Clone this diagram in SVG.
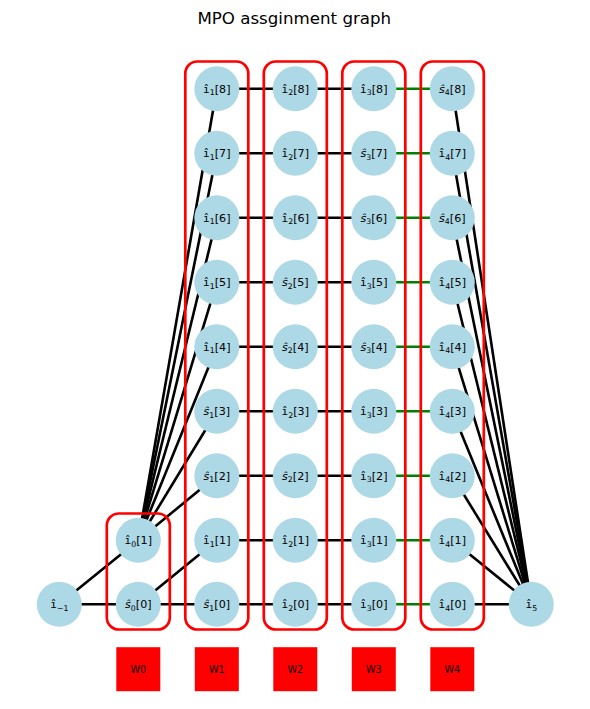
<svg xmlns="http://www.w3.org/2000/svg" width="590" height="709" viewBox="0 0 590 709">
<style>
.e{stroke:#000;stroke-width:2.6;fill:none}
.g{stroke:#008000;stroke-width:2.6;fill:none}
.box{fill:none;stroke:#ff0000;stroke-width:2.7}
.n{fill:#add8e6}
.t{font-family:"DejaVu Sans",sans-serif;font-size:11.1px;fill:#000;text-anchor:middle}
.i{font-family:"DejaVu Sans Mono",monospace}
.s{font-style:italic}
.sb{font-size:7.8px}
.w{fill:#ff0000}
.wt{font-family:"DejaVu Sans",sans-serif;font-size:9.7px;fill:#000;text-anchor:middle}
</style>
<rect width="590" height="709" fill="#fff"/>
<text x="294.3" y="24" font-family="DejaVu Sans, sans-serif" font-size="16.67" text-anchor="middle">MPO assginment graph</text>
<g id="connectors">
<line class="e" x1="59.3" y1="604.3" x2="138.3" y2="604.3"/>
<line class="e" x1="138.3" y1="604.3" x2="216.8" y2="604.3"/>
<line class="e" x1="216.8" y1="604.3" x2="295.3" y2="604.3"/>
<line class="e" x1="295.3" y1="604.3" x2="373.8" y2="604.3"/>
<line class="e" x1="452.3" y1="604.3" x2="531.3" y2="604.3"/>
<line class="e" x1="59.3" y1="604.3" x2="138.3" y2="540.3"/>
<line class="e" x1="138.3" y1="604.3" x2="216.8" y2="540.3"/>
<line class="e" x1="138.3" y1="540.3" x2="216.8" y2="475.8"/>
<line class="e" x1="138.3" y1="540.3" x2="216.8" y2="411.3"/>
<line class="e" x1="138.3" y1="540.3" x2="216.8" y2="346.8"/>
<line class="e" x1="138.3" y1="540.3" x2="216.8" y2="282.3"/>
<line class="e" x1="138.3" y1="540.3" x2="216.8" y2="217.8"/>
<line class="e" x1="138.3" y1="540.3" x2="216.8" y2="153.3"/>
<line class="e" x1="138.3" y1="540.3" x2="216.8" y2="88.8"/>
<line class="e" x1="216.8" y1="540.3" x2="373.8" y2="540.3"/>
<line class="e" x1="216.8" y1="475.8" x2="373.8" y2="475.8"/>
<line class="e" x1="216.8" y1="411.3" x2="373.8" y2="411.3"/>
<line class="e" x1="216.8" y1="346.8" x2="373.8" y2="346.8"/>
<line class="e" x1="216.8" y1="282.3" x2="373.8" y2="282.3"/>
<line class="e" x1="216.8" y1="217.8" x2="373.8" y2="217.8"/>
<line class="e" x1="216.8" y1="153.3" x2="373.8" y2="153.3"/>
<line class="e" x1="216.8" y1="88.8" x2="373.8" y2="88.8"/>
<line class="g" x1="373.8" y1="604.3" x2="452.3" y2="604.3"/>
<line class="g" x1="373.8" y1="540.3" x2="452.3" y2="540.3"/>
<line class="g" x1="373.8" y1="475.8" x2="452.3" y2="475.8"/>
<line class="g" x1="373.8" y1="411.3" x2="452.3" y2="411.3"/>
<line class="g" x1="373.8" y1="346.8" x2="452.3" y2="346.8"/>
<line class="g" x1="373.8" y1="282.3" x2="452.3" y2="282.3"/>
<line class="g" x1="373.8" y1="217.8" x2="452.3" y2="217.8"/>
<line class="g" x1="373.8" y1="153.3" x2="452.3" y2="153.3"/>
<line class="g" x1="373.8" y1="88.8" x2="452.3" y2="88.8"/>
<line class="e" x1="452.3" y1="540.3" x2="531.3" y2="604.3"/>
<line class="e" x1="452.3" y1="475.8" x2="531.3" y2="604.3"/>
<line class="e" x1="452.3" y1="411.3" x2="531.3" y2="604.3"/>
<line class="e" x1="452.3" y1="346.8" x2="531.3" y2="604.3"/>
<line class="e" x1="452.3" y1="282.3" x2="531.3" y2="604.3"/>
<line class="e" x1="452.3" y1="217.8" x2="531.3" y2="604.3"/>
<line class="e" x1="452.3" y1="153.3" x2="531.3" y2="604.3"/>
<line class="e" x1="452.3" y1="88.8" x2="531.3" y2="604.3"/>
</g>
<g id="groups">
<rect id="box-W0" class="box" x="106.8" y="513.5" width="63" height="116" rx="12"/>
<rect id="box-W1" class="box" x="185.3" y="61.5" width="63" height="568" rx="12"/>
<rect id="box-W2" class="box" x="263.8" y="61.5" width="63" height="568" rx="12"/>
<rect id="box-W3" class="box" x="342.3" y="61.5" width="63" height="568" rx="12"/>
<rect id="box-W4" class="box" x="420.8" y="61.5" width="63" height="568" rx="12"/>
</g>
<g id="node-im1"><circle class="n" cx="59.3" cy="604.3" r="22.5"/><text class="t" x="59.3" y="608.3"><tspan class="i">ı̂</tspan><tspan class="sb" dy="2.5">−1</tspan></text></g>
<g id="node-s0-0"><circle class="n" cx="138.3" cy="604.3" r="22.5"/><text class="t" x="138.3" y="608.3"><tspan class="s">ŝ</tspan><tspan class="sb" dy="2.5">0</tspan><tspan dy="-2.5">[0]</tspan></text></g>
<g id="node-i0-1"><circle class="n" cx="138.3" cy="540.3" r="22.5"/><text class="t" x="138.3" y="544.3"><tspan class="i">ı̂</tspan><tspan class="sb" dy="2.5">0</tspan><tspan dy="-2.5">[1]</tspan></text></g>
<g id="node-s1-0"><circle class="n" cx="216.8" cy="604.3" r="22.5"/><text class="t" x="216.8" y="608.3"><tspan class="s">ŝ</tspan><tspan class="sb" dy="2.5">1</tspan><tspan dy="-2.5">[0]</tspan></text></g>
<g id="node-i1-1"><circle class="n" cx="216.8" cy="540.3" r="22.5"/><text class="t" x="216.8" y="544.3"><tspan class="i">ı̂</tspan><tspan class="sb" dy="2.5">1</tspan><tspan dy="-2.5">[1]</tspan></text></g>
<g id="node-s1-2"><circle class="n" cx="216.8" cy="475.8" r="22.5"/><text class="t" x="216.8" y="479.8"><tspan class="s">ŝ</tspan><tspan class="sb" dy="2.5">1</tspan><tspan dy="-2.5">[2]</tspan></text></g>
<g id="node-s1-3"><circle class="n" cx="216.8" cy="411.3" r="22.5"/><text class="t" x="216.8" y="415.3"><tspan class="s">ŝ</tspan><tspan class="sb" dy="2.5">1</tspan><tspan dy="-2.5">[3]</tspan></text></g>
<g id="node-i1-4"><circle class="n" cx="216.8" cy="346.8" r="22.5"/><text class="t" x="216.8" y="350.8"><tspan class="i">ı̂</tspan><tspan class="sb" dy="2.5">1</tspan><tspan dy="-2.5">[4]</tspan></text></g>
<g id="node-i1-5"><circle class="n" cx="216.8" cy="282.3" r="22.5"/><text class="t" x="216.8" y="286.3"><tspan class="i">ı̂</tspan><tspan class="sb" dy="2.5">1</tspan><tspan dy="-2.5">[5]</tspan></text></g>
<g id="node-i1-6"><circle class="n" cx="216.8" cy="217.8" r="22.5"/><text class="t" x="216.8" y="221.8"><tspan class="i">ı̂</tspan><tspan class="sb" dy="2.5">1</tspan><tspan dy="-2.5">[6]</tspan></text></g>
<g id="node-i1-7"><circle class="n" cx="216.8" cy="153.3" r="22.5"/><text class="t" x="216.8" y="157.3"><tspan class="i">ı̂</tspan><tspan class="sb" dy="2.5">1</tspan><tspan dy="-2.5">[7]</tspan></text></g>
<g id="node-i1-8"><circle class="n" cx="216.8" cy="88.8" r="22.5"/><text class="t" x="216.8" y="92.8"><tspan class="i">ı̂</tspan><tspan class="sb" dy="2.5">1</tspan><tspan dy="-2.5">[8]</tspan></text></g>
<g id="node-i2-0"><circle class="n" cx="295.3" cy="604.3" r="22.5"/><text class="t" x="295.3" y="608.3"><tspan class="i">ı̂</tspan><tspan class="sb" dy="2.5">2</tspan><tspan dy="-2.5">[0]</tspan></text></g>
<g id="node-i2-1"><circle class="n" cx="295.3" cy="540.3" r="22.5"/><text class="t" x="295.3" y="544.3"><tspan class="i">ı̂</tspan><tspan class="sb" dy="2.5">2</tspan><tspan dy="-2.5">[1]</tspan></text></g>
<g id="node-s2-2"><circle class="n" cx="295.3" cy="475.8" r="22.5"/><text class="t" x="295.3" y="479.8"><tspan class="s">ŝ</tspan><tspan class="sb" dy="2.5">2</tspan><tspan dy="-2.5">[2]</tspan></text></g>
<g id="node-i2-3"><circle class="n" cx="295.3" cy="411.3" r="22.5"/><text class="t" x="295.3" y="415.3"><tspan class="i">ı̂</tspan><tspan class="sb" dy="2.5">2</tspan><tspan dy="-2.5">[3]</tspan></text></g>
<g id="node-s2-4"><circle class="n" cx="295.3" cy="346.8" r="22.5"/><text class="t" x="295.3" y="350.8"><tspan class="s">ŝ</tspan><tspan class="sb" dy="2.5">2</tspan><tspan dy="-2.5">[4]</tspan></text></g>
<g id="node-s2-5"><circle class="n" cx="295.3" cy="282.3" r="22.5"/><text class="t" x="295.3" y="286.3"><tspan class="s">ŝ</tspan><tspan class="sb" dy="2.5">2</tspan><tspan dy="-2.5">[5]</tspan></text></g>
<g id="node-i2-6"><circle class="n" cx="295.3" cy="217.8" r="22.5"/><text class="t" x="295.3" y="221.8"><tspan class="i">ı̂</tspan><tspan class="sb" dy="2.5">2</tspan><tspan dy="-2.5">[6]</tspan></text></g>
<g id="node-i2-7"><circle class="n" cx="295.3" cy="153.3" r="22.5"/><text class="t" x="295.3" y="157.3"><tspan class="i">ı̂</tspan><tspan class="sb" dy="2.5">2</tspan><tspan dy="-2.5">[7]</tspan></text></g>
<g id="node-i2-8"><circle class="n" cx="295.3" cy="88.8" r="22.5"/><text class="t" x="295.3" y="92.8"><tspan class="i">ı̂</tspan><tspan class="sb" dy="2.5">2</tspan><tspan dy="-2.5">[8]</tspan></text></g>
<g id="node-i3-0"><circle class="n" cx="373.8" cy="604.3" r="22.5"/><text class="t" x="373.8" y="608.3"><tspan class="i">ı̂</tspan><tspan class="sb" dy="2.5">3</tspan><tspan dy="-2.5">[0]</tspan></text></g>
<g id="node-i3-1"><circle class="n" cx="373.8" cy="540.3" r="22.5"/><text class="t" x="373.8" y="544.3"><tspan class="i">ı̂</tspan><tspan class="sb" dy="2.5">3</tspan><tspan dy="-2.5">[1]</tspan></text></g>
<g id="node-i3-2"><circle class="n" cx="373.8" cy="475.8" r="22.5"/><text class="t" x="373.8" y="479.8"><tspan class="i">ı̂</tspan><tspan class="sb" dy="2.5">3</tspan><tspan dy="-2.5">[2]</tspan></text></g>
<g id="node-i3-3"><circle class="n" cx="373.8" cy="411.3" r="22.5"/><text class="t" x="373.8" y="415.3"><tspan class="i">ı̂</tspan><tspan class="sb" dy="2.5">3</tspan><tspan dy="-2.5">[3]</tspan></text></g>
<g id="node-s3-4"><circle class="n" cx="373.8" cy="346.8" r="22.5"/><text class="t" x="373.8" y="350.8"><tspan class="s">ŝ</tspan><tspan class="sb" dy="2.5">3</tspan><tspan dy="-2.5">[4]</tspan></text></g>
<g id="node-i3-5"><circle class="n" cx="373.8" cy="282.3" r="22.5"/><text class="t" x="373.8" y="286.3"><tspan class="i">ı̂</tspan><tspan class="sb" dy="2.5">3</tspan><tspan dy="-2.5">[5]</tspan></text></g>
<g id="node-s3-6"><circle class="n" cx="373.8" cy="217.8" r="22.5"/><text class="t" x="373.8" y="221.8"><tspan class="s">ŝ</tspan><tspan class="sb" dy="2.5">3</tspan><tspan dy="-2.5">[6]</tspan></text></g>
<g id="node-s3-7"><circle class="n" cx="373.8" cy="153.3" r="22.5"/><text class="t" x="373.8" y="157.3"><tspan class="s">ŝ</tspan><tspan class="sb" dy="2.5">3</tspan><tspan dy="-2.5">[7]</tspan></text></g>
<g id="node-i3-8"><circle class="n" cx="373.8" cy="88.8" r="22.5"/><text class="t" x="373.8" y="92.8"><tspan class="i">ı̂</tspan><tspan class="sb" dy="2.5">3</tspan><tspan dy="-2.5">[8]</tspan></text></g>
<g id="node-i4-0"><circle class="n" cx="452.3" cy="604.3" r="22.5"/><text class="t" x="452.3" y="608.3"><tspan class="i">ı̂</tspan><tspan class="sb" dy="2.5">4</tspan><tspan dy="-2.5">[0]</tspan></text></g>
<g id="node-i4-1"><circle class="n" cx="452.3" cy="540.3" r="22.5"/><text class="t" x="452.3" y="544.3"><tspan class="i">ı̂</tspan><tspan class="sb" dy="2.5">4</tspan><tspan dy="-2.5">[1]</tspan></text></g>
<g id="node-i4-2"><circle class="n" cx="452.3" cy="475.8" r="22.5"/><text class="t" x="452.3" y="479.8"><tspan class="i">ı̂</tspan><tspan class="sb" dy="2.5">4</tspan><tspan dy="-2.5">[2]</tspan></text></g>
<g id="node-i4-3"><circle class="n" cx="452.3" cy="411.3" r="22.5"/><text class="t" x="452.3" y="415.3"><tspan class="i">ı̂</tspan><tspan class="sb" dy="2.5">4</tspan><tspan dy="-2.5">[3]</tspan></text></g>
<g id="node-i4-4"><circle class="n" cx="452.3" cy="346.8" r="22.5"/><text class="t" x="452.3" y="350.8"><tspan class="i">ı̂</tspan><tspan class="sb" dy="2.5">4</tspan><tspan dy="-2.5">[4]</tspan></text></g>
<g id="node-i4-5"><circle class="n" cx="452.3" cy="282.3" r="22.5"/><text class="t" x="452.3" y="286.3"><tspan class="i">ı̂</tspan><tspan class="sb" dy="2.5">4</tspan><tspan dy="-2.5">[5]</tspan></text></g>
<g id="node-s4-6"><circle class="n" cx="452.3" cy="217.8" r="22.5"/><text class="t" x="452.3" y="221.8"><tspan class="s">ŝ</tspan><tspan class="sb" dy="2.5">4</tspan><tspan dy="-2.5">[6]</tspan></text></g>
<g id="node-i4-7"><circle class="n" cx="452.3" cy="153.3" r="22.5"/><text class="t" x="452.3" y="157.3"><tspan class="i">ı̂</tspan><tspan class="sb" dy="2.5">4</tspan><tspan dy="-2.5">[7]</tspan></text></g>
<g id="node-s4-8"><circle class="n" cx="452.3" cy="88.8" r="22.5"/><text class="t" x="452.3" y="92.8"><tspan class="s">ŝ</tspan><tspan class="sb" dy="2.5">4</tspan><tspan dy="-2.5">[8]</tspan></text></g>
<g id="node-i5"><circle class="n" cx="531.3" cy="604.3" r="22.5"/><text class="t" x="531.3" y="608.3"><tspan class="i">ı̂</tspan><tspan class="sb" dy="2.5">5</tspan></text></g>
<g id="W0"><rect class="w" x="116.3" y="647.2" width="44" height="44"/><text class="wt" x="138.3" y="672.7">W0</text></g>
<g id="W1"><rect class="w" x="194.8" y="647.2" width="44" height="44"/><text class="wt" x="216.8" y="672.7">W1</text></g>
<g id="W2"><rect class="w" x="273.3" y="647.2" width="44" height="44"/><text class="wt" x="295.3" y="672.7">W2</text></g>
<g id="W3"><rect class="w" x="351.8" y="647.2" width="44" height="44"/><text class="wt" x="373.8" y="672.7">W3</text></g>
<g id="W4"><rect class="w" x="430.3" y="647.2" width="44" height="44"/><text class="wt" x="452.3" y="672.7">W4</text></g>
</svg>
